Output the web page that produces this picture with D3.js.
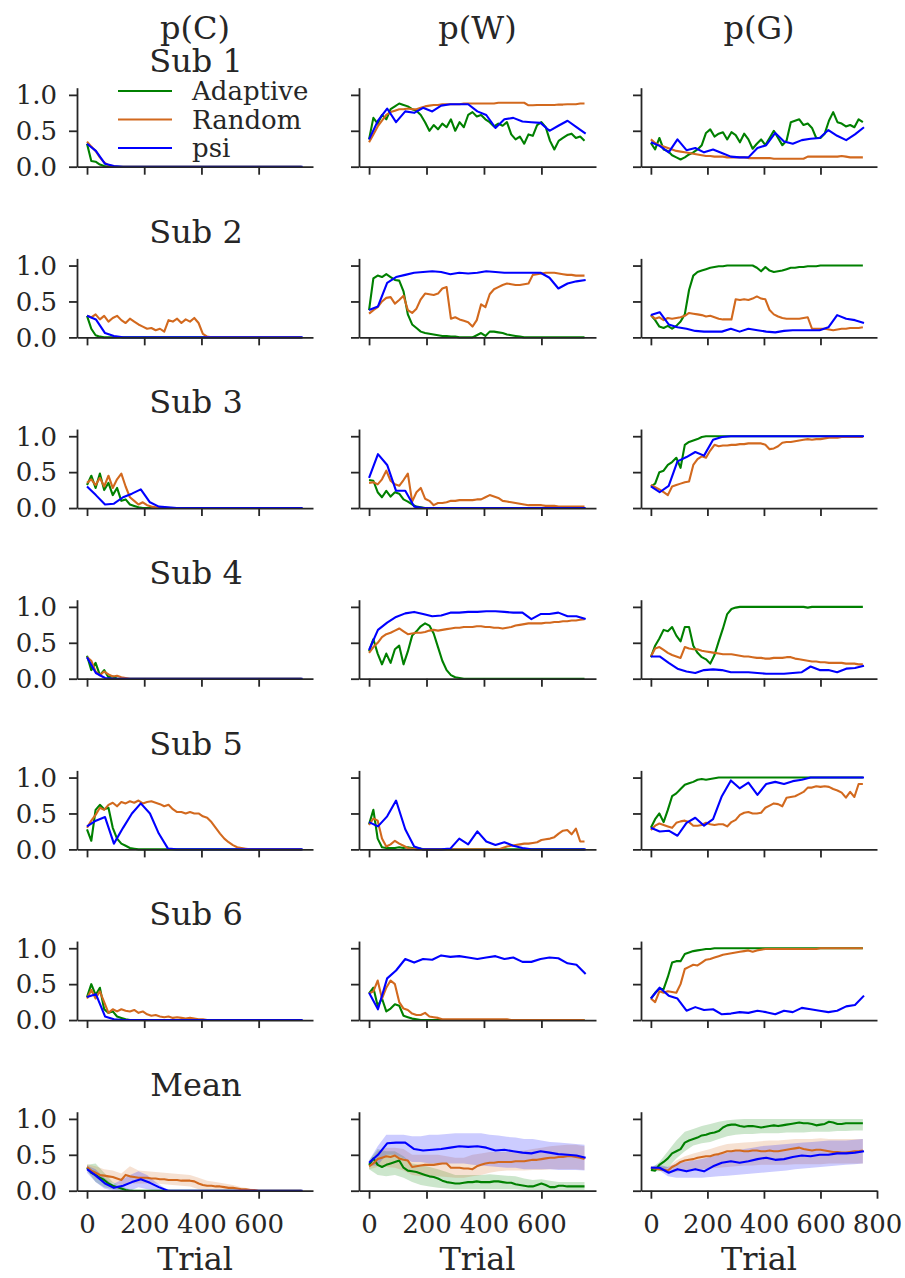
<!DOCTYPE html>
<html><head><meta charset="utf-8">
<script src="https://cdn.jsdelivr.net/npm/d3@7"></script>
<style>
body{margin:0;background:#fff}
svg text{font-family:"DejaVu Serif",serif;fill:#262626}
</style>
</head><body>
<svg id="c" width="905" height="1278"></svg>
<script>
// ---------------- DATA ----------------
const trials = [0,15,30,45,60,75,90,105,120,135,150,165,180,195,210,225,240,255,270,285,300,315,330,345,360,375,390,405,420,435,450,465,480,495,510,525,540,555,570,585,600,615,630,645,660,675,690,705,720,735,750];
const psiTrials = [0,31,63,94,126,157,188,220,251,283,314,345,377,408,440,471,502,534,565,597,628,659,691,722,754];
const bandTrials = [0,30,60,90,120,150,180,210,240,270,300,330,360,390,420,450,480,510,540,570,600,630,660,690,720,750];
const columnTitles = ["p(C)","p(W)","p(G)"];
const rowTitles = ["Sub 1","Sub 2","Sub 3","Sub 4","Sub 5","Sub 6","Mean"];
const seriesNames = ["Adaptive","Random","psi"];
const yTickValues = [0,0.5,1.0];
const yTickLabels = ["0.0","0.5","1.0"];
const xTickValues = [0,200,400,600];
const xTickValuesLast = [0,200,400,600,800];
const xLabel = "Trial";

// p(C): one array per row (Sub 1..6, Mean)
const adaptive_pC = [
 [0.32,0.08,0.07,0.03,0.01,0,0,0,0,0, 0,0,0,0,0,0,0,0,0,0, 0,0,0,0,0,0,0,0,0,0, 0,0,0,0,0,0,0,0,0,0, 0,0,0,0,0,0,0,0,0,0, 0],
 [0.30,0.12,0.03,0.01,0,0,0,0,0,0, 0,0,0,0,0,0,0,0,0,0, 0,0,0,0,0,0,0,0,0,0, 0,0,0,0,0,0,0,0,0,0, 0,0,0,0,0,0,0,0,0,0, 0],
 [0.32,0.45,0.28,0.48,0.25,0.35,0.18,0.28,0.10,0.12, 0.05,0.03,0.01,0,0,0,0,0,0,0, 0,0,0,0,0,0,0,0,0,0, 0,0,0,0,0,0,0,0,0,0, 0,0,0,0,0,0,0,0,0,0, 0],
 [0.32,0.12,0.22,0.05,0.12,0.02,0.03,0,0,0, 0,0,0,0,0,0,0,0,0,0, 0,0,0,0,0,0,0,0,0,0, 0,0,0,0,0,0,0,0,0,0, 0,0,0,0,0,0,0,0,0,0, 0],
 [0.28,0.12,0.55,0.62,0.56,0.58,0.30,0.15,0.08,0.05, 0.02,0.01,0,0,0,0,0,0,0,0, 0,0,0,0,0,0,0,0,0,0, 0,0,0,0,0,0,0,0,0,0, 0,0,0,0,0,0,0,0,0,0, 0],
 [0.32,0.50,0.35,0.45,0.15,0.10,0.12,0.05,0.03,0.01, 0,0,0,0,0,0,0,0,0,0, 0,0,0,0,0,0,0,0,0,0, 0,0,0,0,0,0,0,0,0,0, 0,0,0,0,0,0,0,0,0,0, 0],
 [0.32,0.25,0.22,0.18,0.15,0.10,0.07,0.05,0.03,0.01, 0,0,0,0,0,0,0,0,0,0, 0,0,0,0,0,0,0,0,0,0, 0,0,0,0,0,0,0,0,0,0, 0,0,0,0,0,0,0,0,0,0, 0]
];
const random_pC = [
 [0.35,0.28,0.22,0.13,0.06,0.02,0.01,0,0,0, 0,0,0,0,0,0,0,0,0,0, 0,0,0,0,0,0,0,0,0,0, 0,0,0,0,0,0,0,0,0,0, 0,0,0,0,0,0,0,0,0,0, 0],
 [0.30,0.28,0.32,0.25,0.30,0.22,0.27,0.30,0.24,0.20, 0.26,0.22,0.18,0.15,0.12,0.13,0.10,0.12,0.08,0.24, 0.22,0.26,0.20,0.25,0.22,0.27,0.20,0.05,0.01,0, 0,0,0,0,0,0,0,0,0,0, 0,0,0,0,0,0,0,0,0,0, 0],
 [0.35,0.40,0.32,0.42,0.30,0.45,0.28,0.40,0.48,0.30, 0.15,0.10,0.05,0.08,0.04,0.02,0.01,0.01,0,0, 0,0,0,0,0,0,0,0,0,0, 0,0,0,0,0,0,0,0,0,0, 0,0,0,0,0,0,0,0,0,0, 0],
 [0.30,0.25,0.10,0.05,0.10,0.06,0.03,0.04,0.02,0.01, 0,0,0,0,0,0,0,0,0,0, 0,0,0,0,0,0,0,0,0,0, 0,0,0,0,0,0,0,0,0,0, 0,0,0,0,0,0,0,0,0,0, 0],
 [0.30,0.40,0.48,0.58,0.55,0.62,0.65,0.60,0.66,0.64, 0.67,0.65,0.68,0.64,0.66,0.67,0.65,0.63,0.60,0.62, 0.56,0.52,0.52,0.50,0.52,0.50,0.50,0.46,0.44,0.38, 0.30,0.22,0.15,0.10,0.06,0.03,0.02,0.01,0,0, 0,0,0,0,0,0,0,0,0,0, 0],
 [0.30,0.42,0.30,0.40,0.25,0.10,0.15,0.12,0.15,0.13, 0.12,0.14,0.10,0.12,0.08,0.06,0.07,0.05,0.04,0.05, 0.03,0.04,0.03,0.02,0.03,0.02,0.01,0.01,0,0, 0,0,0,0,0,0,0,0,0,0, 0,0,0,0,0,0,0,0,0,0, 0],
 [0.33,0.28,0.25,0.22,0.21,0.20,0.19,0.17,0.15,0.22, 0.20,0.19,0.18,0.18,0.18,0.17,0.17,0.16,0.16,0.15, 0.15,0.15,0.14,0.14,0.14,0.13,0.10,0.08,0.07,0.07, 0.06,0.06,0.05,0.04,0.04,0.03,0.02,0.02,0.01,0.01, 0,0,0,0,0,0,0,0,0,0, 0]
];
const psi_pC = [
 [0.32,0.22,0.04,0.01,0, 0,0,0,0,0, 0,0,0,0,0, 0,0,0,0,0, 0,0,0,0,0],
 [0.30,0.25,0.06,0.02,0, 0,0,0,0,0, 0,0,0,0,0, 0,0,0,0,0, 0,0,0,0,0],
 [0.30,0.18,0.05,0.06,0.15, 0.20,0.26,0.08,0.02,0.01, 0,0,0,0,0, 0,0,0,0,0, 0,0,0,0,0],
 [0.30,0.08,0.01,0,0, 0,0,0,0,0, 0,0,0,0,0, 0,0,0,0,0, 0,0,0,0,0],
 [0.32,0.40,0.45,0.08,0.30, 0.50,0.64,0.50,0.22,0.01, 0,0,0,0,0, 0,0,0,0,0, 0,0,0,0,0],
 [0.32,0.36,0.05,0.01,0, 0,0,0,0,0, 0,0,0,0,0, 0,0,0,0,0, 0,0,0,0,0],
 [0.30,0.21,0.10,0.04,0.07, 0.12,0.16,0.11,0.05,0, 0,0,0,0,0, 0,0,0,0,0, 0,0,0,0,0]
];

// p(W)
const adaptive_pW = [
 [0.38,0.68,0.60,0.72,0.66,0.80,0.84,0.88,0.86,0.84, 0.80,0.78,0.72,0.62,0.50,0.58,0.52,0.60,0.55,0.66, 0.50,0.62,0.55,0.72,0.76,0.70,0.72,0.66,0.62,0.56, 0.60,0.57,0.62,0.45,0.38,0.42,0.32,0.45,0.43,0.58, 0.62,0.55,0.36,0.24,0.36,0.40,0.44,0.46,0.40,0.42, 0.36],
 [0.38,0.82,0.86,0.84,0.88,0.84,0.80,0.79,0.64,0.32, 0.18,0.13,0.08,0.06,0.05,0.04,0.03,0.02,0.02,0.01, 0.01,0,0,0,0,0.03,0.06,0.02,0.08,0.08, 0.07,0.06,0.04,0.03,0.02,0.01,0,0,0,0, 0,0,0,0,0,0,0,0,0,0, 0],
 [0.39,0.38,0.22,0.15,0.24,0.16,0.22,0.20,0.12,0.09, 0.05,0.02,0.01,0,0,0,0,0,0,0, 0,0,0,0,0,0,0,0,0,0, 0,0,0,0,0,0,0,0,0,0, 0,0,0,0,0,0,0,0,0,0, 0],
 [0.38,0.55,0.35,0.20,0.35,0.22,0.41,0.46,0.20,0.38, 0.60,0.66,0.73,0.77,0.74,0.63,0.44,0.25,0.12,0.05, 0.02,0.01,0,0,0,0,0,0,0,0, 0,0,0,0,0,0,0,0,0,0, 0,0,0,0,0,0,0,0,0,0, 0],
 [0.35,0.55,0.15,0.03,0.02,0.02,0.02,0.03,0.02,0.03, 0.02,0.01,0.01,0,0,0,0,0,0,0, 0,0,0,0,0,0,0,0,0,0, 0,0,0,0,0,0,0,0,0,0, 0,0,0,0,0,0,0,0,0,0, 0],
 [0.37,0.45,0.20,0.30,0.12,0.16,0.22,0.20,0.06,0.04, 0.02,0.01,0,0,0,0,0,0,0,0, 0,0,0,0,0,0,0,0,0,0, 0,0,0,0,0,0,0,0,0,0, 0,0,0,0,0,0,0,0,0,0, 0],
 [0.36,0.45,0.36,0.33,0.36,0.38,0.40,0.42,0.32,0.28, 0.27,0.26,0.24,0.22,0.20,0.19,0.17,0.14,0.12,0.11, 0.10,0.10,0.11,0.12,0.12,0.13,0.12,0.12,0.12,0.13, 0.13,0.12,0.11,0.11,0.09,0.08,0.07,0.06,0.06,0.08, 0.10,0.08,0.05,0.05,0.07,0.07,0.06,0.06,0.06,0.06, 0.06]
];
const random_pW = [
 [0.34,0.45,0.56,0.64,0.72,0.76,0.78,0.80,0.80,0.81, 0.80,0.80,0.82,0.84,0.85,0.86,0.86,0.87,0.87,0.87, 0.87,0.87,0.88,0.88,0.88,0.88,0.88,0.88,0.88,0.88, 0.89,0.89,0.89,0.89,0.89,0.89,0.89,0.855,0.855,0.86, 0.86,0.86,0.86,0.86,0.865,0.865,0.87,0.87,0.87,0.88, 0.88],
 [0.33,0.38,0.42,0.50,0.55,0.56,0.47,0.52,0.58,0.38, 0.34,0.40,0.53,0.61,0.60,0.59,0.61,0.68,0.70,0.26, 0.28,0.25,0.23,0.21,0.15,0.24,0.46,0.42,0.60,0.67, 0.70,0.73,0.75,0.74,0.73,0.73,0.74,0.75,0.87,0.88, 0.89,0.90,0.90,0.90,0.89,0.88,0.87,0.87,0.86,0.86, 0.86],
 [0.35,0.36,0.33,0.40,0.52,0.38,0.33,0.31,0.39,0.48, 0.09,0.22,0.28,0.13,0.10,0.04,0.07,0.07,0.08,0.10, 0.10,0.11,0.11,0.11,0.11,0.12,0.12,0.15,0.18,0.16, 0.14,0.10,0.09,0.08,0.07,0.06,0.05,0.04,0.04,0.04, 0.04,0.03,0.03,0.03,0.02,0.02,0.02,0.02,0.02,0.02, 0.02],
 [0.36,0.44,0.50,0.58,0.62,0.64,0.67,0.70,0.66,0.62, 0.63,0.64,0.64,0.65,0.67,0.68,0.67,0.68,0.69,0.70, 0.71,0.71,0.72,0.72,0.72,0.73,0.73,0.72,0.72,0.71, 0.71,0.70,0.71,0.72,0.74,0.75,0.76,0.77,0.77,0.77, 0.77,0.78,0.78,0.79,0.79,0.80,0.80,0.81,0.81,0.82, 0.83],
 [0.34,0.43,0.40,0.15,0.04,0.07,0.12,0.08,0.05,0.02, 0.01,0,0,0,0,0,0,0,0,0, 0,0,0,0,0,0,0,0,0,0, 0,0.02,0.04,0.05,0.06,0.07,0.08,0.08,0.09,0.10, 0.13,0.14,0.15,0.17,0.22,0.26,0.27,0.21,0.29,0.11, 0.11],
 [0.37,0.40,0.55,0.30,0.45,0.55,0.50,0.25,0.16,0.14, 0.09,0.07,0.07,0.10,0.05,0.04,0.03,0.01,0.01,0.01, 0.01,0.01,0.01,0.01,0.01,0.01,0.01,0.01,0.01,0.01, 0.01,0.01,0.01,0,0,0,0,0,0,0, 0,0,0,0,0,0,0,0,0,0, 0],
 [0.34,0.38,0.44,0.46,0.48,0.47,0.49,0.45,0.43,0.42, 0.33,0.34,0.35,0.36,0.36,0.36,0.37,0.38,0.38,0.32, 0.32,0.32,0.31,0.31,0.30,0.34,0.36,0.38,0.39,0.39, 0.40,0.40,0.40,0.40,0.41,0.41,0.41,0.42,0.43,0.43, 0.44,0.45,0.46,0.46,0.47,0.47,0.48,0.48,0.47,0.46, 0.44]
];
const psi_pW = [
 [0.38,0.64,0.81,0.62,0.77, 0.75,0.82,0.77,0.85,0.87, 0.87,0.87,0.77,0.72,0.54, 0.66,0.68,0.63,0.62,0.61, 0.50,0.57,0.64,0.55,0.46],
 [0.38,0.43,0.76,0.84,0.87, 0.90,0.91,0.92,0.91,0.88, 0.90,0.89,0.90,0.92,0.91, 0.90,0.90,0.90,0.90,0.90, 0.83,0.68,0.75,0.78,0.80],
 [0.42,0.75,0.60,0.24,0.24, 0.02,0,0,0,0, 0,0,0,0,0, 0,0,0,0,0, 0,0,0,0,0],
 [0.40,0.68,0.78,0.86,0.91, 0.93,0.90,0.87,0.88,0.92, 0.92,0.93,0.93,0.94,0.94, 0.93,0.92,0.92,0.83,0.90, 0.90,0.92,0.87,0.87,0.83],
 [0.38,0.32,0.46,0.68,0.28, 0.04,0,0,0,0.01, 0.15,0.07,0.25,0.11,0.06, 0.10,0.05,0.02,0,0, 0,0,0,0,0],
 [0.38,0.15,0.58,0.69,0.85, 0.80,0.85,0.84,0.90,0.88, 0.89,0.87,0.85,0.87,0.89, 0.85,0.87,0.81,0.81,0.85, 0.87,0.86,0.79,0.77,0.64],
 [0.39,0.50,0.66,0.67,0.67, 0.58,0.56,0.57,0.58,0.60, 0.62,0.61,0.62,0.60,0.56, 0.57,0.55,0.53,0.52,0.55, 0.53,0.51,0.50,0.49,0.46]
];

// p(G)
const adaptive_pG = [
 [0.33,0.24,0.40,0.24,0.22,0.16,0.13,0.10,0.13,0.17, 0.20,0.24,0.30,0.47,0.52,0.42,0.46,0.48,0.38,0.48, 0.44,0.34,0.46,0.38,0.25,0.32,0.38,0.30,0.40,0.50, 0.40,0.30,0.36,0.62,0.64,0.66,0.58,0.60,0.54,0.40, 0.40,0.46,0.64,0.76,0.62,0.60,0.56,0.58,0.55,0.66, 0.62],
 [0.31,0.24,0.15,0.13,0.16,0.12,0.16,0.22,0.32,0.66, 0.86,0.91,0.93,0.95,0.97,0.98,0.99,0.99,1,1, 1,1,1,1,1,0.97,0.92,0.98,0.93,0.91, 0.92,0.93,0.95,0.97,0.97,0.98,0.98,0.99,0.99,0.99, 1,1,1,1,1,1,1,1,1,1, 1],
 [0.30,0.34,0.50,0.52,0.60,0.64,0.70,0.56,0.88,0.92, 0.94,0.96,0.99,1,1,1,1,1,1,1, 1,1,1,1,1,1,1,1,1,1, 1,1,1,1,1,1,1,1,1,1, 1,1,1,1,1,1,1,1,1,1, 1],
 [0.30,0.46,0.56,0.68,0.66,0.72,0.60,0.52,0.72,0.72, 0.46,0.36,0.30,0.27,0.21,0.33,0.52,0.70,0.90,0.97, 0.99,1,1,1,1,1,1,1,1,1, 1,1,1,1,1,1,1,0.99,1,1, 1,1,1,1,1,1,1,1,1,1, 1],
 [0.30,0.42,0.50,0.38,0.55,0.74,0.78,0.84,0.90,0.92, 0.94,0.97,0.98,0.97,0.98,0.99,1,1,1,1, 1,1,1,1,1,1,1,1,1,1, 1,1,1,1,1,1,1,1,1,1, 1,1,1,1,1,1,1,1,1,1, 1],
 [0.30,0.38,0.44,0.43,0.60,0.80,0.82,0.82,0.92,0.94, 0.96,0.97,0.98,0.99,0.99,1,1,1,1,1, 1,1,1,1,1,1,1,1,1,1, 1,1,1,1,1,1,1,1,1,1, 1,1,1,1,1,1,1,1,1,1, 1],
 [0.29,0.28,0.36,0.40,0.45,0.52,0.55,0.58,0.67,0.70, 0.72,0.74,0.77,0.78,0.80,0.81,0.83,0.88,0.91,0.92, 0.92,0.90,0.89,0.90,0.90,0.89,0.88,0.89,0.90,0.91, 0.90,0.91,0.92,0.93,0.94,0.95,0.94,0.94,0.93,0.91, 0.92,0.93,0.96,0.95,0.93,0.93,0.94,0.94,0.94,0.94, 0.94]
];
const random_pG = [
 [0.38,0.33,0.30,0.28,0.26,0.24,0.22,0.21,0.20,0.19, 0.18,0.17,0.16,0.15,0.15,0.14,0.14,0.14,0.13,0.13, 0.13,0.13,0.13,0.12,0.12,0.12,0.12,0.12,0.12,0.11, 0.11,0.11,0.11,0.11,0.11,0.11,0.11,0.14,0.14,0.14, 0.14,0.14,0.14,0.14,0.14,0.15,0.14,0.13,0.13,0.13, 0.13],
 [0.31,0.26,0.28,0.24,0.27,0.26,0.27,0.28,0.30,0.34, 0.33,0.32,0.31,0.29,0.30,0.28,0.26,0.25,0.25,0.25, 0.53,0.52,0.53,0.52,0.54,0.57,0.54,0.53,0.38,0.32, 0.29,0.27,0.26,0.26,0.26,0.26,0.27,0.28,0.12,0.12, 0.12,0.12,0.11,0.10,0.11,0.12,0.12,0.13,0.13,0.13, 0.14],
 [0.32,0.29,0.26,0.22,0.18,0.30,0.32,0.34,0.36,0.37, 0.60,0.68,0.72,0.70,0.80,0.88,0.86,0.87,0.87,0.88, 0.88,0.89,0.89,0.90,0.90,0.90,0.90,0.88,0.82,0.83, 0.86,0.91,0.92,0.92,0.93,0.94,0.95,0.96,0.95,0.96, 0.96,0.97,0.98,0.98,0.98,0.99,0.99,0.99,0.99,0.99, 0.99],
 [0.31,0.42,0.44,0.40,0.36,0.33,0.31,0.29,0.44,0.42, 0.41,0.41,0.39,0.38,0.37,0.36,0.35,0.34,0.34,0.34, 0.33,0.32,0.31,0.31,0.30,0.29,0.29,0.28,0.28,0.29, 0.29,0.29,0.30,0.30,0.28,0.27,0.26,0.25,0.24,0.24, 0.23,0.23,0.22,0.22,0.22,0.22,0.21,0.21,0.21,0.20, 0.20],
 [0.27,0.33,0.36,0.34,0.32,0.30,0.37,0.39,0.40,0.38, 0.33,0.33,0.34,0.37,0.35,0.34,0.35,0.35,0.32,0.38, 0.41,0.48,0.51,0.52,0.50,0.50,0.51,0.58,0.61,0.64, 0.63,0.60,0.72,0.73,0.74,0.77,0.80,0.86,0.86,0.88, 0.87,0.88,0.87,0.84,0.82,0.79,0.72,0.80,0.73,0.91, 0.91],
 [0.30,0.25,0.40,0.38,0.40,0.39,0.38,0.50,0.71,0.74, 0.77,0.76,0.80,0.84,0.85,0.87,0.89,0.91,0.92,0.93, 0.94,0.95,0.96,0.97,0.95,0.97,0.98,0.99,0.99,0.99, 0.99,0.99,0.99,0.99,0.99,0.99,0.99,0.99,0.99,0.99, 1,1,1,1,1,1,1,1,1,1, 1],
 [0.32,0.31,0.30,0.29,0.28,0.33,0.36,0.40,0.42,0.43, 0.44,0.46,0.47,0.48,0.48,0.50,0.51,0.53,0.55,0.55, 0.56,0.56,0.55,0.55,0.56,0.56,0.55,0.55,0.56,0.55, 0.55,0.56,0.57,0.58,0.59,0.60,0.58,0.57,0.56,0.57, 0.57,0.56,0.55,0.54,0.54,0.53,0.53,0.54,0.55,0.55, 0.56]
];
const psi_pG = [
 [0.34,0.29,0.20,0.38,0.23, 0.26,0.20,0.24,0.19,0.14, 0.13,0.13,0.26,0.30,0.47, 0.35,0.32,0.37,0.39,0.40, 0.51,0.43,0.37,0.45,0.55],
 [0.31,0.35,0.18,0.14,0.12, 0.09,0.08,0.08,0.08,0.12, 0.08,0.12,0.10,0.08,0.07, 0.09,0.10,0.10,0.10,0.10, 0.14,0.31,0.26,0.24,0.20],
 [0.30,0.22,0.31,0.65,0.71, 0.78,0.73,0.95,0.99,1, 1,1,1,1,1, 1,1,1,1,1, 1,1,1,1,1],
 [0.31,0.31,0.22,0.14,0.10, 0.08,0.12,0.13,0.12,0.09, 0.09,0.09,0.08,0.07,0.07, 0.07,0.08,0.09,0.17,0.12, 0.12,0.09,0.14,0.15,0.18],
 [0.30,0.25,0.26,0.19,0.37, 0.44,0.33,0.42,0.74,0.96, 0.85,0.93,0.76,0.91,0.94, 0.91,0.95,0.97,1,1, 1,1,1,1,1],
 [0.30,0.45,0.34,0.30,0.13, 0.18,0.14,0.15,0.08,0.09, 0.11,0.10,0.13,0.11,0.08, 0.13,0.11,0.17,0.15,0.13, 0.11,0.13,0.19,0.21,0.34],
 [0.32,0.32,0.25,0.30,0.27, 0.30,0.27,0.34,0.39,0.41, 0.39,0.41,0.44,0.46,0.43, 0.44,0.47,0.49,0.48,0.50, 0.50,0.52,0.52,0.53,0.55]
];

// Mean-row uncertainty bands (lower / upper), one array per column [pC, pW, pG]
const adaptiveBandLo = [
 [0.28,0.12,0.05,0.02,0,0,0,0,0,0,0,0,0,0,0,0,0,0,0,0,0,0,0,0,0,0],
 [0.30,0.22,0.20,0.22,0.18,0.12,0.08,0.06,0.04,0.03,0.02,0.02,0.02,0.02,0.02,0.02,0.02,0.02,0.01,0.01,0.01,0.01,0.01,0.01,0.01,0.01],
 [0.27,0.27,0.32,0.45,0.55,0.63,0.66,0.68,0.72,0.76,0.78,0.79,0.79,0.80,0.80,0.80,0.81,0.81,0.81,0.82,0.82,0.82,0.83,0.83,0.84,0.84]
];
const adaptiveBandHi = [
 [0.36,0.38,0.25,0.12,0.06,0.02,0,0,0,0,0,0,0,0,0,0,0,0,0,0,0,0,0,0,0,0],
 [0.42,0.58,0.55,0.55,0.48,0.38,0.36,0.33,0.30,0.26,0.22,0.22,0.22,0.22,0.23,0.22,0.21,0.20,0.17,0.15,0.16,0.14,0.12,0.12,0.12,0.12],
 [0.31,0.40,0.55,0.70,0.82,0.86,0.90,0.93,0.96,0.98,0.99,1,1,1,1,1,1,1,1,1,1,1,1,1,1,1]
];
const randomBandLo = [
 [0.29,0.18,0.13,0.11,0.08,0.10,0.10,0.10,0.10,0.09,0.08,0.07,0.06,0.02,0.01,0,0,0,0,0,0,0,0,0,0,0],
 [0.30,0.33,0.33,0.32,0.28,0.22,0.20,0.20,0.20,0.19,0.18,0.18,0.20,0.22,0.25,0.27,0.28,0.28,0.28,0.29,0.29,0.30,0.30,0.30,0.30,0.29],
 [0.29,0.28,0.25,0.26,0.28,0.30,0.30,0.31,0.32,0.33,0.34,0.35,0.35,0.36,0.36,0.36,0.36,0.37,0.37,0.37,0.37,0.38,0.38,0.38,0.38,0.38]
];
const randomBandHi = [
 [0.37,0.34,0.30,0.28,0.24,0.34,0.28,0.27,0.26,0.25,0.24,0.23,0.22,0.18,0.14,0.12,0.10,0.08,0.05,0.03,0.01,0,0,0,0,0],
 [0.38,0.55,0.60,0.60,0.58,0.50,0.50,0.50,0.50,0.48,0.46,0.46,0.50,0.52,0.54,0.54,0.54,0.55,0.56,0.58,0.60,0.62,0.63,0.64,0.64,0.62],
 [0.34,0.34,0.33,0.42,0.48,0.52,0.55,0.58,0.62,0.65,0.66,0.67,0.68,0.69,0.70,0.70,0.71,0.72,0.72,0.72,0.73,0.72,0.72,0.72,0.72,0.72]
];
const psiBandLo = [
 [0.25,0.12,0.03,0,0,0,0.05,0.02,0,0,0,0,0,0,0,0,0,0,0,0,0,0,0,0,0,0],
 [0.35,0.35,0.50,0.50,0.45,0.40,0.40,0.38,0.38,0.38,0.38,0.38,0.36,0.35,0.34,0.33,0.32,0.32,0.30,0.30,0.30,0.30,0.29,0.29,0.29,0.28],
 [0.30,0.28,0.20,0.18,0.18,0.18,0.18,0.19,0.20,0.21,0.22,0.23,0.24,0.25,0.26,0.27,0.28,0.30,0.31,0.32,0.33,0.34,0.35,0.36,0.37,0.38]
];
const psiBandHi = [
 [0.35,0.30,0.18,0.09,0.15,0.22,0.27,0.22,0.12,0.04,0,0,0,0,0,0,0,0,0,0,0,0,0,0,0,0],
 [0.42,0.62,0.78,0.78,0.78,0.76,0.76,0.78,0.78,0.79,0.80,0.80,0.80,0.80,0.78,0.77,0.75,0.74,0.72,0.72,0.70,0.68,0.67,0.66,0.65,0.64],
 [0.34,0.36,0.33,0.38,0.40,0.42,0.44,0.47,0.50,0.53,0.56,0.58,0.60,0.62,0.63,0.64,0.65,0.66,0.67,0.68,0.69,0.70,0.70,0.70,0.71,0.72]
];

// ---------------- DRAWING ----------------
const colors = {Adaptive:"#008000", Random:"#d2691e", psi:"#0000ff"};
const lineData = {
  Adaptive:[adaptive_pC, adaptive_pW, adaptive_pG],
  Random:[random_pC, random_pW, random_pG],
  psi:[psi_pC, psi_pW, psi_pG]
};
const lineTrials = {Adaptive:trials, Random:trials, psi:psiTrials};
const bandData = {
  Adaptive:[adaptiveBandLo, adaptiveBandHi],
  Random:[randomBandLo, randomBandHi],
  psi:[psiBandLo, psiBandHi]
};
const colRange = [[77,313],[359,596],[641,877]];
const colDomain = [[-35,790],[-35,790],[-35,800]];
const rowBase = r => 166.7 + 170.67*r;
const axisColor = "#262626";
const TICK_FS = "26px", TITLE_FS = "32px";
const svg = d3.select("#c");

function zip(xs, ys){ const n=Math.min(xs.length, ys.length); const out=[]; for(let i=0;i<n;i++) out.push([xs[i], ys[i]]); return out; }

for (let c=0;c<3;c++){
  for (let r=0;r<7;r++){
    const x = d3.scaleLinear().domain(colDomain[c]).range(colRange[c]);
    const y0 = rowBase(r);
    const y = d3.scaleLinear().domain([0,1.1]).range([y0, y0-79]);
    const g = svg.append("g");
    if (r===6){
      seriesNames.forEach(s=>{
        const lo = bandData[s][0][c], hi = bandData[s][1][c];
        const pts = bandTrials.map((t,i)=>({t, lo:lo[i], hi:hi[i]}));
        g.append("path").datum(pts)
          .attr("d", d3.area().x(d=>x(d.t)).y0(d=>y(d.lo)).y1(d=>y(d.hi)))
          .attr("fill", colors[s]).attr("fill-opacity", 0.2).attr("stroke","none");
      });
    }
    seriesNames.forEach(s=>{
      const pts = zip(lineTrials[s], lineData[s][c][r]);
      g.append("path").datum(pts)
        .attr("d", d3.line().x(d=>x(d[0])).y(d=>y(d[1])))
        .attr("fill","none").attr("stroke", colors[s])
        .attr("stroke-width", 2.1).attr("stroke-linejoin","round");
    });
    const last = r===6;
    const xt = (last && c===2) ? xTickValuesLast : xTickValues;
    const xa = d3.axisBottom(x).tickValues(xt).tickSize(8).tickSizeOuter(0).tickPadding(16)
      .tickFormat(last ? d3.format("d") : "");
    const gx = g.append("g").attr("transform", `translate(0,${y0})`).call(xa);
    const ya = d3.axisLeft(y).tickValues(yTickValues).tickSize(8).tickSizeOuter(0).tickPadding(12)
      .tickFormat((d,i)=> c===0 ? yTickLabels[i] : "");
    const gy = g.append("g").attr("transform", `translate(${colRange[c][0]},0)`).call(ya);
    [gx,gy].forEach(a=>{
      a.attr("font-family", null).attr("font-size", null);
      a.selectAll("path.domain").attr("stroke", axisColor).attr("stroke-width", 1.8);
      a.selectAll(".tick line").attr("stroke", axisColor).attr("stroke-width", 1.8);
      a.selectAll(".tick text").style("font-size", TICK_FS).attr("fill", axisColor);
    });
    gy.selectAll(".tick text").attr("dy","0.34em");
    if (last){
      svg.append("text").attr("x", (colRange[c][0]+colRange[c][1])/2).attr("y", 1270)
        .attr("text-anchor","middle").style("font-size", TITLE_FS).text(xLabel);
    }
  }
}
// column 1: two-line title "p(C)" / "Sub 1" as one text block; other rows: row title only
const colCenter = c => (colRange[c][0]+colRange[c][1])/2;
const t0 = svg.append("text").attr("text-anchor","middle").style("font-size", TITLE_FS);
t0.append("tspan").attr("x", colCenter(0)).attr("y", 39).text(columnTitles[0]);
t0.append("tspan").attr("x", 196).attr("y", 72).text(rowTitles[0]);
for (let c=1;c<3;c++){
  svg.append("text").attr("x", colCenter(c)).attr("y", 39)
    .attr("text-anchor","middle").style("font-size", TITLE_FS).text(columnTitles[c]);
}
rowTitles.slice(1).forEach((t,i)=>{
  svg.append("text").attr("x", 196).attr("y", 72 + 170.67*(i+1))
    .attr("text-anchor","middle").style("font-size", TITLE_FS).text(t);
});
const leg = svg.append("g");
seriesNames.forEach((s,i)=>{
  const ly = 91 + 28.5*i;
  leg.append("line").attr("x1",118).attr("x2",172).attr("y1",ly).attr("y2",ly)
    .attr("stroke", colors[s]).attr("stroke-width",2.1);
  leg.append("text").attr("x",192).attr("y",ly).attr("dy","0.35em")
    .style("font-size", TICK_FS).text(s);
});
</script>
</body></html>
